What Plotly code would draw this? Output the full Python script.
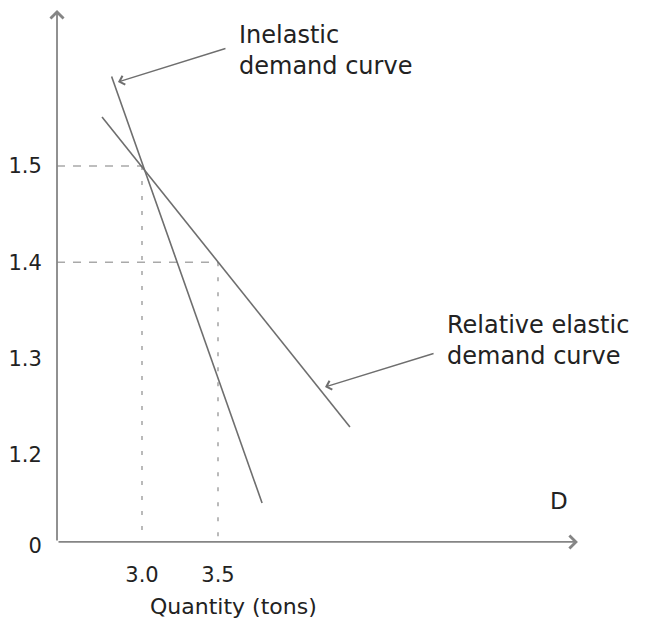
import plotly.graph_objects as go

# ---- data ----
inelastic_q = [2.80, 3.79]
inelastic_p = [1.593, 1.150]
elastic_q = [2.737, 4.368]
elastic_p = [1.551, 1.229]

eq_q = [3.0, 3.5]
eq_p = [1.5, 1.4]

x_tick_vals = [3.0, 3.5]
x_tick_text = ["3.0", "3.5"]
y_tick_vals = [1.1054, 1.2, 1.3, 1.4, 1.5]
y_tick_text = ["0", "1.2", "1.3", "1.4", "1.5"]

# ---- axis geometry (broken axis origin) ----
X0, Y0 = 2.4408, 1.1096      # axis origin
X_TIP, Y_TIP = 5.868, 1.662  # arrow tips

FONT = "DejaVu Sans"
TXT = "#222222"
LINE = "#6e6e6e"
AX = "#858585"
DASH = "#a9a9a9"

fig = go.Figure()

# guide lines
for q, p in zip(eq_q, eq_p):
    fig.add_trace(go.Scatter(x=[X0, q], y=[p, p], mode="lines",
                             line=dict(color=DASH, width=1.6, dash="8px,8px"),
                             hoverinfo="skip", showlegend=False))
    fig.add_trace(go.Scatter(x=[q, q], y=[p, Y0], mode="lines",
                             line=dict(color=DASH, width=1.6, dash="4px,11px"),
                             hoverinfo="skip", showlegend=False))

# demand curves
fig.add_trace(go.Scatter(x=inelastic_q, y=inelastic_p, mode="lines",
                         line=dict(color=LINE, width=1.6), showlegend=False))
fig.add_trace(go.Scatter(x=elastic_q, y=elastic_p, mode="lines",
                         line=dict(color=LINE, width=1.6), showlegend=False))

ann = []
# axes with arrows
ann.append(dict(x=X_TIP, y=Y0, ax=X0, ay=Y0, xref="x", yref="y", axref="x", ayref="y",
                text="", showarrow=True, arrowhead=4, arrowsize=1.4, arrowwidth=1.8,
                arrowcolor=AX, standoff=0, startstandoff=0))
ann.append(dict(x=X0, y=Y_TIP, ax=X0, ay=Y0, xref="x", yref="y", axref="x", ayref="y",
                text="", showarrow=True, arrowhead=4, arrowsize=1.4, arrowwidth=1.8,
                arrowcolor=AX, standoff=0, startstandoff=0))
# pointer arrows
ann.append(dict(x=2.842, y=1.5872, ax=3.559, ay=1.6225, xref="x", yref="y", axref="x", ayref="y",
                text="", showarrow=True, arrowhead=4, arrowsize=1.3, arrowwidth=1.4,
                arrowcolor=LINE, standoff=0))
ann.append(dict(x=4.204, y=1.2705, ax=4.928, ay=1.3058, xref="x", yref="y", axref="x", ayref="y",
                text="", showarrow=True, arrowhead=4, arrowsize=1.3, arrowwidth=1.4,
                arrowcolor=LINE, standoff=0))

def label(text, x, y, size=24, xanchor="left"):
    ann.append(dict(x=x, y=y, xref="x", yref="y", text=text, showarrow=False,
                    xanchor=xanchor, yanchor="middle", align="left",
                    font=dict(family=FONT, size=size, color=TXT)))

label("Inelastic<br>demand curve", 3.625, 1.6199)
label("Relative elastic<br>demand curve", 4.993, 1.3188)
label("D", 5.743, 1.1526, size=23, xanchor="center")

ann.append(dict(x=3.60, y=0, xref="x", yref="paper", text="Quantity (tons)",
                showarrow=False, xanchor="center", yanchor="top", yshift=-44,
                font=dict(family=FONT, size=22, color=TXT)))

fig.update_layout(
    width=637, height=625,
    margin=dict(l=42, r=0, t=0, b=85),
    paper_bgcolor="white", plot_bgcolor="white",
    showlegend=False,
    annotations=ann,
    xaxis=dict(range=[2.3947, 6.3092], showgrid=False, zeroline=False, showline=False,
               tickmode="array", tickvals=x_tick_vals, ticktext=x_tick_text,
               ticks="outside", ticklen=8, tickcolor="rgba(0,0,0,0)",
               tickfont=dict(family=FONT, size=21, color=TXT)),
    yaxis=dict(range=[1.10332, 1.66407], showgrid=False, zeroline=False, showline=False,
               tickmode="array", tickvals=y_tick_vals, ticktext=y_tick_text,
               ticks="outside", ticklen=3, tickcolor="rgba(0,0,0,0)",
               tickfont=dict(family=FONT, size=21, color=TXT)),
)

fig.write_html("out.html")
